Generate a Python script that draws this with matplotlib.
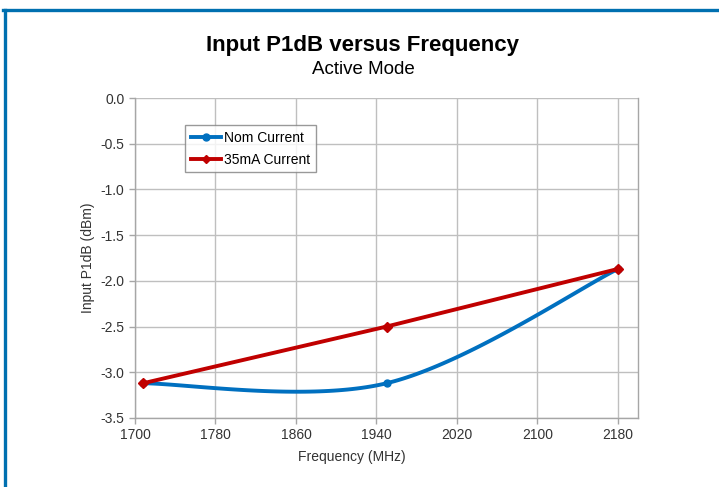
import numpy as np
import matplotlib
matplotlib.use("Agg")
import matplotlib.pyplot as plt
from matplotlib.lines import Line2D

plt.rcParams['font.family'] = ['Liberation Sans', 'DejaVu Sans']

freq = [1708, 1950, 2180]
nom_current = [-3.12, -3.12, -1.87]
ma35_current = [-3.12, -2.50, -1.87]
x_ticks = [1700, 1780, 1860, 1940, 2020, 2100, 2180]
y_ticks = [0.0, -0.5, -1.0, -1.5, -2.0, -2.5, -3.0, -3.5]


def excel_smooth(xs, ys, n=60):
    P = np.column_stack([xs, ys]).astype(float)
    m = len(P)
    out = []
    for i in range(m - 1):
        p0 = P[i]
        p1 = P[i + 1]
        pm = P[i - 1] if i > 0 else P[i]
        pp = P[i + 2] if i + 2 < m else P[i + 1]
        c1 = p0 + (p1 - pm) / 6.0
        c2 = p1 - (pp - p0) / 6.0
        t = np.linspace(0, 1, n)[:, None]
        seg = ((1 - t) ** 3) * p0 + 3 * ((1 - t) ** 2) * t * c1 + 3 * (1 - t) * t ** 2 * c2 + t ** 3 * p1
        out.append(seg if i == 0 else seg[1:])
    out = np.vstack(out)
    return out[:, 0], out[:, 1]


fig = plt.figure(figsize=(7.19, 4.87), dpi=100)
ax = fig.add_axes([135 / 719, 1 - 418 / 487, 503 / 719, 320 / 487])

blue = '#0070C0'
red = '#C00000'
sx, sy = excel_smooth(freq, nom_current)
ax.plot(sx, sy, color=blue, lw=2.8, solid_capstyle='round', zorder=3)
ax.plot(freq, nom_current, 'o', color=blue, ms=5, zorder=4)
ax.plot(freq, ma35_current, color=red, lw=2.8, marker='D', ms=5, zorder=4)

ax.set_xlim(1700, 2200)
ax.set_ylim(-3.5, 0.0)
ax.set_xticks(x_ticks)
ax.set_xticklabels([str(v) for v in x_ticks])
ax.set_yticks(y_ticks)
ax.set_yticklabels([f"{v:.1f}" for v in y_ticks])
ax.grid(True, color='#BFBFBF', lw=1.0)
ax.set_axisbelow(True)
for s in ['left', 'bottom', 'right']:
    ax.spines[s].set_color('#A6A6A6')
    ax.spines[s].set_linewidth(1.0)
ax.spines['top'].set_visible(False)
ax.tick_params(axis='both', colors='#A6A6A6', labelcolor='#333333', labelsize=10, length=4, width=1.0)

ax.set_ylabel('Input P1dB (dBm)', fontsize=10, color='#333333', labelpad=4)
fig.text(352 / 719, 1 - 457 / 487, 'Frequency (MHz)', ha='center', va='center',
         fontsize=10, color='#333333')

handles = [Line2D([], [], color=blue, lw=2.8, marker='o', ms=5),
           Line2D([], [], color=red, lw=2.8, marker='D', ms=4)]
leg = ax.legend(handles, ['Nom Current', '35mA Current'], loc='upper left',
                bbox_to_anchor=((185 - 135) / 503, (418 - 125) / 320),
                frameon=True, fancybox=False, fontsize=10, handlelength=2.2,
                handletextpad=0.2, borderpad=0.4, labelspacing=0.6, borderaxespad=0)
leg.get_frame().set_edgecolor('#808080')
leg.get_frame().set_linewidth(1.0)

fig.text(363 / 719, 1 - 45 / 487, 'Input P1dB versus Frequency', ha='center', va='center',
         fontsize=16, fontweight='bold', color='black')
fig.text(363 / 719, 1 - 70 / 487, 'Active Mode', ha='center', va='center',
         fontsize=13.5, color='black')

# blue frame (left and top)
fig.add_artist(Line2D([4.5 / 719, 4.5 / 719], [0, 1 - 9.5 / 487], transform=fig.transFigure, color='#0070B0', lw=2.4))
fig.add_artist(Line2D([3 / 719, 1], [1 - 9.5 / 487, 1 - 9.5 / 487], transform=fig.transFigure, color='#0070B0', lw=2.4))

fig.savefig('out.png', dpi=100)
